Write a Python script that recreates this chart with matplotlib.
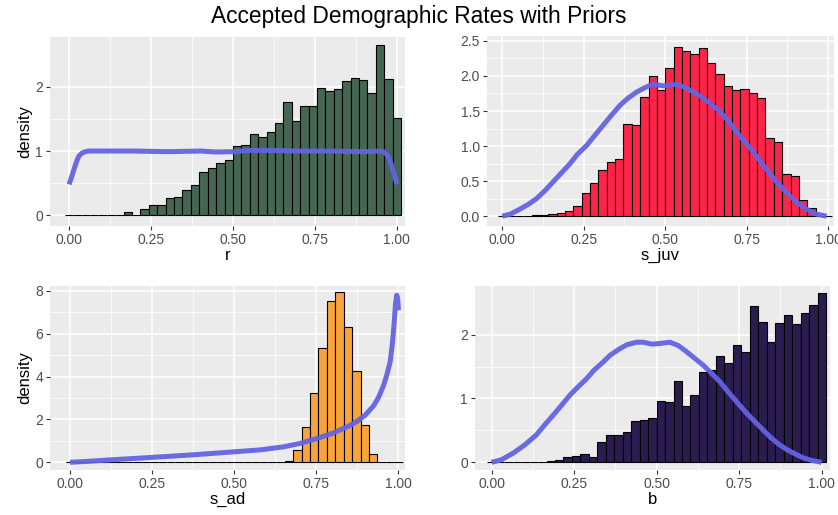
import numpy as np
import matplotlib
matplotlib.use("Agg")
import matplotlib.pyplot as plt
from matplotlib.ticker import FixedLocator

plt.rcParams["font.family"] = ["Liberation Sans", "DejaVu Sans"]

# histogram bins shared by every panel: 40 bins centred on k/39 over [0, 1]
N_BINS = 40

# accepted draws, density per bin (bins 0..39)
r_density = [0, 0, 0, 0, 0, 0, 0, 0.05, 0,
             0.10, 0.15, 0.16, 0.27, 0.28, 0.39, 0.47, 0.67, 0.73, 0.81,
             0.86, 1.08, 1.10, 1.27, 1.22, 1.29, 1.44, 1.77, 1.47, 1.71,
             1.71, 1.98, 1.94, 1.97, 2.09, 2.14, 2.11, 1.90, 2.66, 2.12, 1.51]

s_juv_density = [0, 0, 0, 0.005, 0.01, 0.01, 0.03, 0.05, 0.07, 0.15,
                 0.33, 0.47, 0.66, 0.77, 0.82, 1.32, 1.30, 1.70, 2.00, 1.80,
                 2.11, 2.42, 2.35, 2.32, 2.40, 2.18, 2.03, 1.85, 1.80, 1.82,
                 1.75, 1.68, 1.12, 1.06, 0.60, 0.58, 0.23, 0.12, 0, 0]

s_ad_density = [0] * 25 + [0.01, 0.06, 0.57, 1.66, 3.24, 5.33, 7.54, 7.93,
                           6.33, 4.26, 1.73, 0.39, 0, 0, 0]

b_density = [0, 0, 0, 0, 0, 0, 0.01, 0.02, 0.04, 0.08,
             0.10, 0.13, 0.08, 0.32, 0.43, 0.43, 0.48, 0.64, 0.66, 0.70,
             0.96, 0.94, 1.28, 0.88, 1.06, 1.41, 1.44, 1.66, 1.55, 1.83,
             1.73, 2.44, 2.19, 1.89, 2.18, 2.30, 2.16, 2.34, 2.46, 2.65]

# prior density curves
r_prior_x = [0, 0.005, 0.01, 0.015, 0.02, 0.025, 0.03, 0.04, 0.05, 0.06,
             0.1, 0.2, 0.3, 0.4, 0.45, 0.5, 0.55, 0.6, 0.7, 0.8, 0.9, 0.95,
             0.96, 0.965, 0.97, 0.975, 0.98, 0.985, 0.99, 0.995, 1.0]
r_prior_y = [0.48, 0.55, 0.63, 0.71, 0.79, 0.86, 0.92, 0.97, 0.99, 1.0,
             1.0, 1.0, 0.99, 1.0, 0.985, 0.99, 1.01, 1.01, 1.0, 1.0, 0.99,
             1.0, 0.99, 0.97, 0.94, 0.90, 0.84, 0.76, 0.67, 0.58, 0.48]

s_juv_prior_x = [0, 0.025, 0.054, 0.08, 0.105, 0.13, 0.156, 0.18, 0.208,
                 0.23, 0.259, 0.28, 0.31, 0.335, 0.361, 0.385, 0.412, 0.44,
                 0.463, 0.494, 0.515, 0.535, 0.555, 0.576, 0.595, 0.617,
                 0.64, 0.668, 0.695, 0.719, 0.745, 0.77, 0.795, 0.821,
                 0.845, 0.872, 0.898, 0.923, 0.945, 0.964, 0.985, 0.995]
s_juv_prior_y = [0, 0.03, 0.10, 0.17, 0.25, 0.36, 0.49, 0.61, 0.75,
                 0.88, 1.01, 1.13, 1.30, 1.44, 1.58, 1.68, 1.77, 1.84,
                 1.88, 1.86, 1.87, 1.88, 1.85, 1.80, 1.75, 1.68,
                 1.60, 1.49, 1.35, 1.20, 1.06, 0.92, 0.76, 0.61,
                 0.47, 0.34, 0.22, 0.13, 0.07, 0.03, 0.01, 0]

s_ad_prior_x = [0, 0.05, 0.12, 0.25, 0.376, 0.5, 0.58, 0.65, 0.7, 0.75,
                0.8, 0.85, 0.875, 0.9, 0.925, 0.94, 0.955, 0.965, 0.975,
                0.982, 0.987, 0.991, 0.995, 0.998, 1.0]
s_ad_prior_y = [0, 0.04, 0.11, 0.23, 0.35, 0.49, 0.58, 0.72, 0.88, 1.10,
                1.36, 1.70, 1.92, 2.22, 2.65, 3.05, 3.60, 4.10, 4.70,
                5.60, 6.50, 7.40, 7.80, 7.60, 7.10]

b_prior_x = [0, 0.03, 0.066, 0.1, 0.136, 0.16, 0.187, 0.21, 0.237, 0.26,
             0.288, 0.31, 0.338, 0.36, 0.389, 0.41, 0.439, 0.46, 0.485,
             0.51, 0.54, 0.565, 0.591, 0.615, 0.641, 0.665, 0.692, 0.717,
             0.742, 0.767, 0.793, 0.818, 0.843, 0.868, 0.894, 0.92, 0.944,
             0.97, 1.0]
b_prior_y = [0, 0.04, 0.145, 0.27, 0.43, 0.58, 0.74, 0.88, 1.05, 1.17,
             1.31, 1.44, 1.57, 1.68, 1.78, 1.84, 1.88, 1.88, 1.85,
             1.86, 1.88, 1.83, 1.73, 1.63, 1.52, 1.40, 1.26, 1.10,
             0.95, 0.80, 0.66, 0.53, 0.40, 0.29, 0.20, 0.13, 0.07,
             0.03, 0]

panels = [
    # name, density, prior x, prior y, fill, y ticks, y fmt, ylabel, box(px), xlim, ylim
    ("r", r_density, r_prior_x, r_prior_y, "#456652", [0, 1, 2], "{:.0f}", True,
     (50, 37, 405, 226), (-0.058, 1.025), (-0.17, 2.78)),
    ("s_juv", s_juv_density, s_juv_prior_x, s_juv_prior_y, "#fc2447",
     [0, 0.5, 1.0, 1.5, 2.0, 2.5], "{:.1f}", False,
     (487, 36, 834, 226), (-0.047, 1.018), (-0.14, 2.57)),
    ("s_ad", s_ad_density, s_ad_prior_x, s_ad_prior_y, "#f9a33c", [0, 2, 4, 6, 8],
     "{:.0f}", True, (50, 286, 405, 470), (-0.061, 1.02), (-0.36, 8.23)),
    ("b", b_density, b_prior_x, b_prior_y, "#2b1c4f", [0, 1, 2], "{:.0f}", False,
     (475, 286, 830, 470), (-0.05, 1.025), (-0.12, 2.76)),
]

W, H = 838, 515
fig = plt.figure(figsize=(W / 100, H / 100), dpi=100)
fig.patch.set_facecolor("white")

centers = np.arange(N_BINS) / (N_BINS - 1)
width = 1 / (N_BINS - 1)
x_major = [0, 0.25, 0.5, 0.75, 1.0]
x_minor = [0.125, 0.375, 0.625, 0.875]

for name, dens, px, py, fill, yticks, yfmt, ylab, box, xlim, ylim in panels:
    x0, y0, x1, y1 = box
    ax = fig.add_axes([x0 / W, 1 - y1 / H, (x1 - x0) / W, (y1 - y0) / H])
    ax.set_facecolor("#ebebeb")
    for s in ax.spines.values():
        s.set_visible(False)

    # grid: white major and thinner minor lines
    y_minor = [(a + b) / 2 for a, b in zip(yticks[:-1], yticks[1:])]
    for v in x_major:
        ax.axvline(v, color="white", lw=1.1, zorder=0)
    for v in x_minor:
        ax.axvline(v, color="white", lw=0.55, zorder=0)
    for v in yticks:
        ax.axhline(v, color="white", lw=1.1, zorder=0)
    for v in y_minor:
        ax.axhline(v, color="white", lw=0.55, zorder=0)

    ax.bar(centers, dens, width=width, color=fill, edgecolor="black",
           linewidth=0.8, zorder=2)
    ax.plot(px, py, color="#6363e3", lw=3.6, alpha=0.95, zorder=3,
            solid_capstyle="butt", solid_joinstyle="round")

    ax.set_xlim(*xlim)
    ax.set_ylim(*ylim)
    ax.xaxis.set_major_locator(FixedLocator(x_major))
    ax.set_xticklabels(["{:.2f}".format(v) for v in x_major])
    ax.yaxis.set_major_locator(FixedLocator(yticks))
    ax.set_yticklabels([yfmt.format(v) for v in yticks])
    ax.tick_params(length=3, width=0.8, color="#333333", labelcolor="#4d4d4d",
                   labelsize=10, pad=2)
    ax.set_xlabel(name, fontsize=12, labelpad=1)
    if ylab:
        ax.set_ylabel("density", fontsize=12, labelpad=2)

fig.text(0.5, 1 - 17 / H, "Accepted Demographic Rates with Priors",
         ha="center", va="center", fontsize=16.4)

fig.savefig("out.png", dpi=100)
